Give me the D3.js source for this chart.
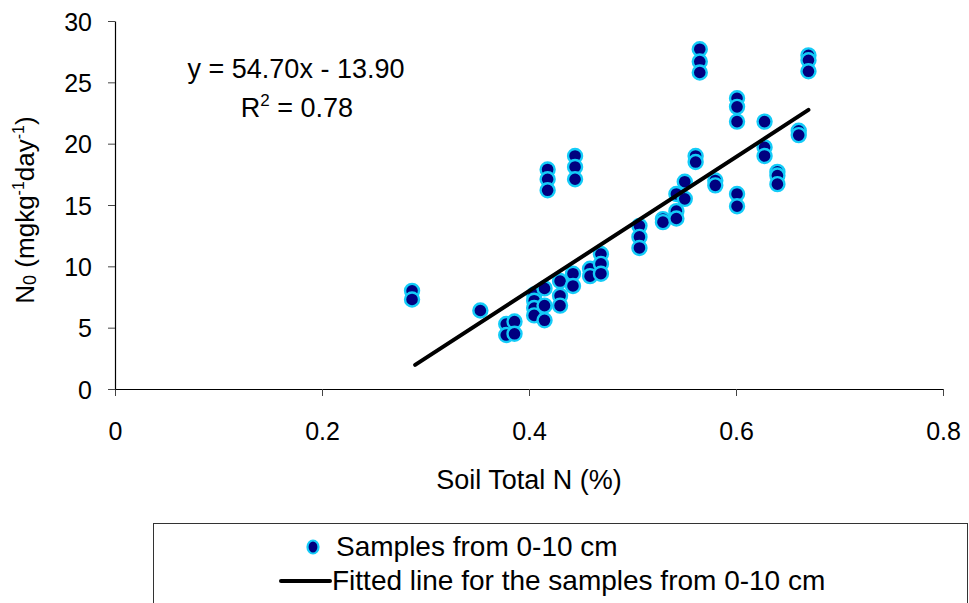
<!DOCTYPE html>
<meta charset="utf-8">
<style>
  body, html {
    margin: 0;
    padding: 0;
    background: #fff;
  }
  text {
    font-family: Arial, "Liberation Sans", Helvetica, sans-serif;
    fill: #000;
  }
</style>
<body>
<svg width="969" height="603"></svg>
<script src="https://d3js.org/d3.v7.min.js"></script>
<script>

// soil total N (%) and N0 (mg kg-1 day-1)
var soilN = [0.287, 0.287, 0.353, 0.378, 0.378, 0.386, 0.386,
    0.405, 0.405, 0.405, 0.405, 0.415, 0.415, 0.415,
    0.418, 0.418, 0.418, 0.430, 0.430, 0.430, 0.4425, 0.4425,
    0.4445, 0.4445, 0.4445, 0.459, 0.459, 0.4695, 0.4695, 0.4695,
    0.5067, 0.5067, 0.5067, 0.5294, 0.5294, 0.5424, 0.5424, 0.5424,
    0.5505, 0.5505, 0.561, 0.561, 0.565, 0.565, 0.565, 0.58, 0.58,
    0.601, 0.601, 0.601, 0.601, 0.601, 0.6276, 0.6276, 0.6276,
    0.640, 0.640, 0.640, 0.6606, 0.6606, 0.670, 0.670, 0.670];
var n0 = [8.0, 7.3, 6.4, 5.3, 4.4, 5.5, 4.5,
    7.7, 7.2, 6.6, 6.0, 8.2, 6.8, 5.6,
    17.9, 17.1, 16.2, 8.8, 7.6, 6.8, 9.4, 8.4,
    19.0, 18.1, 17.1, 9.8, 9.2, 11.0, 10.2, 9.4,
    13.3, 12.4, 11.5, 13.85, 13.6, 15.9, 14.5, 13.9,
    16.9, 15.5, 19.0, 18.5, 27.7, 26.7, 25.8, 17.0, 16.6,
    23.7, 23.0, 21.8, 15.9, 14.9, 21.8, 19.7, 19.0,
    17.7, 17.4, 16.7, 21.05, 20.7, 27.2, 26.8, 25.9];

var slope = 54.70, intercept = -13.90;
var fitRange = [0.29, 0.67];

var xTicks = [0, 0.2, 0.4, 0.6, 0.8];
var yTicks = [0, 5, 10, 15, 20, 25, 30];

var svg = d3.select("svg");

var x = d3.scaleLinear().domain([0, 0.8]).range([115, 943]);
var y = d3.scaleLinear().domain([0, 30]).range([389, 21]);

// axes
var xAxis = svg.append("g")
    .attr("transform", "translate(0," + y(0) + ")")
    .call(d3.axisBottom(x)
        .tickValues(xTicks)
        .tickFormat(function(d) { return d === 0 ? "0" : d3.format(".1f")(d); })
        .tickSizeInner(7)
        .tickSizeOuter(0)
        .tickPadding(26));

var yAxis = svg.append("g")
    .attr("transform", "translate(" + x(0) + ",0)")
    .call(d3.axisLeft(y)
        .tickValues(yTicks)
        .tickSizeInner(7)
        .tickSizeOuter(0)
        .tickPadding(16));

svg.selectAll(".domain").attr("stroke", "#000").attr("stroke-width", 1.2);
svg.selectAll(".tick line").attr("stroke", "#444");
svg.selectAll(".tick text")
    .style("font-family", "Arial, 'Liberation Sans', sans-serif")
    .style("font-size", "25px")
    .attr("fill", "#000");
xAxis.selectAll(".tick text").attr("dy", "0.71em");
yAxis.selectAll(".tick text").attr("dy", "0.36em");

// axis titles
svg.append("text")
    .attr("x", 529)
    .attr("y", 489)
    .attr("text-anchor", "middle")
    .style("font-size", "27px")
    .text("Soil Total N (%)");

var yt = svg.append("text")
    .attr("transform", "translate(34,210) rotate(-90)")
    .attr("text-anchor", "middle")
    .style("font-size", "26px");
yt.append("tspan").text("N");
yt.append("tspan").style("font-size", "18px").attr("dy", 2).text("0");
yt.append("tspan").attr("dy", -2).text(" (mgkg");
yt.append("tspan").style("font-size", "16px").attr("dy", -10).text("-1");
yt.append("tspan").attr("dy", 10).text("day");
yt.append("tspan").style("font-size", "16px").attr("dy", -10).text("-1");
yt.append("tspan").attr("dy", 10).text(")");

// points
var pts = d3.range(soilN.length);
svg.append("g").selectAll("circle")
    .data(pts)
    .enter().append("circle")
    .attr("cx", function(i) { return x(soilN[i]); })
    .attr("cy", function(i) { return y(n0[i]); })
    .attr("r", 7)
    .attr("fill", "#000080")
    .attr("stroke", "#14CCF8")
    .attr("stroke-width", 2.4);

// fitted line
svg.append("line")
    .attr("x1", x(fitRange[0]))
    .attr("y1", y(slope * fitRange[0] + intercept))
    .attr("x2", x(fitRange[1]))
    .attr("y2", y(slope * fitRange[1] + intercept))
    .attr("stroke", "#000")
    .attr("stroke-width", 4)
    .attr("stroke-linecap", "round");

// equation
svg.append("text")
    .attr("x", 296)
    .attr("y", 78)
    .attr("text-anchor", "middle")
    .style("font-size", "27px")
    .text("y = " + slope.toFixed(2) + "x - " + Math.abs(intercept).toFixed(2));

var r2 = svg.append("text")
    .attr("x", 297)
    .attr("y", 117)
    .attr("text-anchor", "middle")
    .style("font-size", "27px");
r2.append("tspan").text("R");
r2.append("tspan").style("font-size", "17px").attr("dy", -11).text("2");
r2.append("tspan").attr("dy", 11).text(" = 0.78");

// legend
var legend = svg.append("g");
legend.append("rect")
    .attr("x", 153.5)
    .attr("y", 523.5)
    .attr("width", 814)
    .attr("height", 120)
    .attr("fill", "none")
    .attr("stroke", "#333")
    .attr("stroke-width", 1);

legend.append("ellipse")
    .attr("cx", 313)
    .attr("cy", 547)
    .attr("rx", 5.5)
    .attr("ry", 6.5)
    .attr("fill", "#000080")
    .attr("stroke", "#14CCF8")
    .attr("stroke-width", 2.2);

legend.append("text")
    .attr("x", 336)
    .attr("y", 556)
    .style("font-size", "28px")
    .text("Samples from 0-10 cm");

legend.append("line")
    .attr("x1", 281).attr("x2", 330)
    .attr("y1", 581).attr("y2", 581)
    .attr("stroke", "#000")
    .attr("stroke-width", 4)
    .attr("stroke-linecap", "round");

legend.append("text")
    .attr("x", 332)
    .attr("y", 590)
    .style("font-size", "28px")
    .text("Fitted line for the samples from 0-10 cm");

</script>
</body>
